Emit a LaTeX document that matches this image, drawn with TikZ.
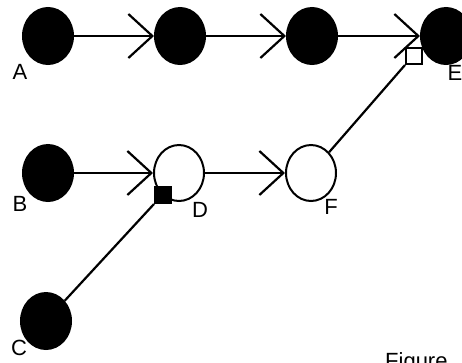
\documentclass[tikz,border=0pt]{standalone}
\usepackage{fontspec}
\setmainfont{Liberation Sans}
\usetikzlibrary{arrows.meta,positioning,shapes.geometric}
\tikzset{
  evnode/.style   ={draw, ellipse, line width=2pt, inner sep=0pt,
                    minimum width=50pt, minimum height=56pt},
  fullnode/.style ={evnode, fill=black},
  emptynode/.style={evnode, fill=white},
  sqnode/.style   ={draw, line width=2pt, minimum size=16pt, inner sep=0pt},
  lbl/.style      ={font=\fontsize{22}{24}\selectfont, inner sep=0pt},
  arr/.style      ={-{Straight Barb[length=24pt,width=44pt]}, line width=2.2pt},
  ln/.style       ={line width=2.2pt},
}

\begin{document}
\begin{tikzpicture}[x=1pt,y=-1pt,node distance=80pt]
  \useasboundingbox (0,0) rectangle (462,362);
  \clip (0,0) rectangle (462,362);
  % top row
  \node[fullnode] (a) at (48,36) {};
  \node[fullnode, right=of a] (a2) {};
  \node[fullnode, right=of a2] (a3) {};
  \node[fullnode, right=82pt of a3] (e) {};
  % middle and bottom
  \node[fullnode] (b) at (48,173) {};
  \node[emptynode, right=79pt of b] (d) {};
  \node[emptynode, right=of d] (f) {};
  \node[fullnode] (c) at (46,321) {};
  % joins
  \node[sqnode, fill=black] (sqd) at (163,195) {};
  \node[sqnode, fill=white] (sqe) at (414,56) {};
  % labels
  \node[lbl] (la) at (20,72) {A};
  \node[lbl] (lb) at (20,204) {B};
  \node[lbl] (lc) at (19,348) {C};
  \node[lbl] (ld) at (200,210) {D};
  \node[lbl] (lf) at (331,207) {F};
  \node[lbl] (le) at (455,73) {E};
  \node[lbl, anchor=north west] (cap) at (385,352) {Figure};

  \draw[arr] (a) -- (a2);
  \draw[arr] (a2) -- (a3);
  \draw[arr] (a3) -- (e);
  \draw[arr] (b) -- (d);
  \draw[arr] (d) -- (f);
  \draw[ln] (c) -- (sqd.south west);
  \draw[ln] (f) -- (sqe.south west);
\end{tikzpicture}
\end{document}
